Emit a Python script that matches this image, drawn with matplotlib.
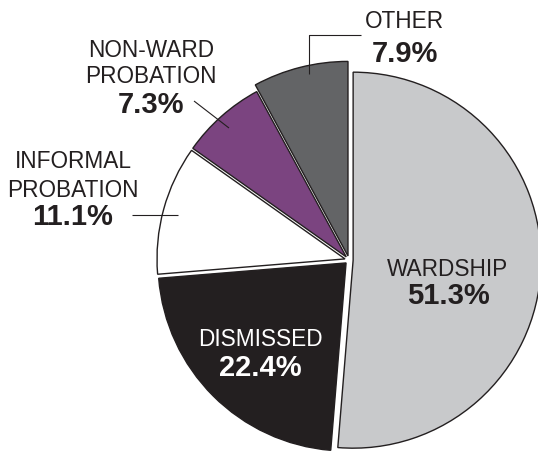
import matplotlib
matplotlib.use('Agg')
import matplotlib.pyplot as plt

# ── Data ──
labels = ["WARDSHIP", "DISMISSED", "INFORMAL\nPROBATION", "NON-WARD\nPROBATION", "OTHER"]
shares = [51.3, 22.4, 11.1, 7.3, 7.9]
colors = ["#c8c9cb", "#231f20", "#ffffff", "#7b4480", "#636466"]
explode = [0.022, 0.022, 0.022, 0.022, 0.022]

INK = "#231f20"
W, H = 538, 456
CX, CY, R = 349, 261, 188   # pie centre / radius in pixels


def px(x, y):
    # pixel (from top-left) -> data coords of the pie axes
    return (x - CX) / R, (CY - y) / R


plt.rcParams['font.family'] = ['Liberation Sans', 'DejaVu Sans']

fig = plt.figure(figsize=(W / 100, H / 100), dpi=100)
ax = fig.add_axes([0, 0, 1, 1])

wedges, _ = ax.pie(shares, colors=colors, explode=explode, startangle=90,
                   counterclock=False, radius=1,
                   wedgeprops=dict(edgecolor=INK, linewidth=1.0))
wedges[4].set_radius(1.035)

ax.set_xlim(-CX / R, (W - CX) / R)
ax.set_ylim((CY - H) / R, CY / R)
ax.set_aspect('auto')
ax.axis('off')

name_fs, pct_fs = 16.3, 21

# inside labels
ax.text(*px(448, 269), labels[0], ha='center', va='center',
        fontsize=name_fs, color=INK)
ax.text(*px(448, 296), f"{shares[0]}%", ha='center', va='center',
        fontsize=pct_fs, fontweight='bold', color=INK)
ax.text(*px(260, 340), labels[1], ha='center', va='center',
        fontsize=name_fs, color='white')
ax.text(*px(260, 368), f"{shares[1]}%", ha='center', va='center',
        fontsize=pct_fs, fontweight='bold', color='white')

# outside labels
for lab, pct, (x, y1, y2, y3) in [
        (labels[2], shares[2], (73, 161, 190, 217)),
        (labels[3], shares[3], (151, 50, 76, 105))]:
    l1, l2 = lab.split("\n")
    ax.text(*px(x, y1), l1, ha='center', va='center', fontsize=name_fs, color=INK)
    ax.text(*px(x, y2), l2, ha='center', va='center', fontsize=name_fs, color=INK)
    ax.text(*px(x, y3), f"{pct}%", ha='center', va='center',
            fontsize=pct_fs, fontweight='bold', color=INK)

ax.text(*px(404, 21), labels[4], ha='center', va='center', fontsize=name_fs, color=INK)
ax.text(*px(405, 54), f"{shares[4]}%", ha='center', va='center',
        fontsize=pct_fs, fontweight='bold', color=INK)

# leader lines
def leader(points):
    xs, ys = zip(*[px(x, y) for x, y in points])
    ax.plot(xs, ys, color=INK, linewidth=0.8, solid_capstyle='butt')

leader([(361, 36), (309, 36), (309, 75)])
leader([(194, 102), (229, 129)])
leader([(132, 216), (178, 216)])

plt.savefig("out.png", dpi=100)
plt.close()
